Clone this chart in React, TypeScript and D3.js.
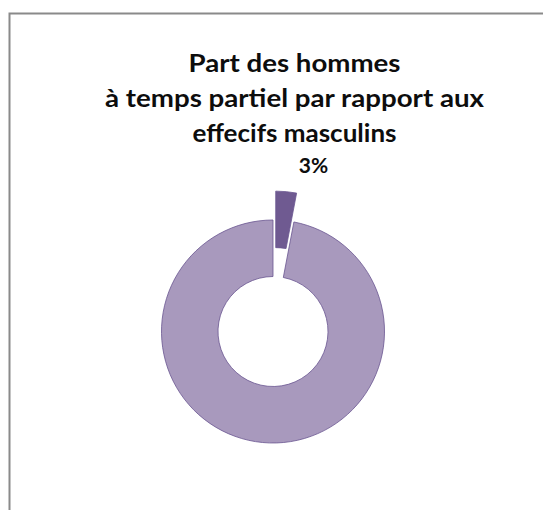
import React from "react";
import * as d3 from "d3";

const categories = ["Hommes à temps partiel", "Autres hommes"];
const values = [3, 97];
const titleLines = ["Part des hommes", "à temps partiel par rapport aux", "effecifs masculins"];
const sliceColors = ["#6F5A91", "#A899BD"];

const W = 543;
const H = 510;
const cx = 273;
const cy = 331.5;
const outerR = 111.5;
const innerR = 55;
const explode = 29;

export default function App() {
  const pie = d3
    .pie<number>()
    .sort(null)
    .startAngle(0)
    .endAngle(2 * Math.PI)
    .value((d) => d);
  const arcs = pie(values);
  const arc = d3.arc<d3.PieArcDatum<number>>().innerRadius(innerR).outerRadius(outerR);
  const total = d3.sum(values);
  const fmt = d3.format(".0%");

  const titleWidths = [212, 379, 204];
  const titleBase = [71.5, 106.5, 141.5];
  const titleX = 294.5;

  return (
    <svg
      width={W}
      height={H}
      style={{ position: "absolute", left: 0, top: 0, background: "#fff" }}
    >
      <rect x={9.5} y={13.5} width={W + 40} height={H + 40} fill="#fff" stroke="#8a8a8a" strokeWidth={2} />
      {titleLines.map((t, i) => (
        <text
          key={i}
          x={titleX}
          y={titleBase[i]}
          textAnchor="middle"
          fontFamily="Lato, 'Open Sans', sans-serif"
          fontWeight={700}
          fontSize={24}
          fill="#0d0d0d"
          textLength={titleWidths[i]}
          lengthAdjust="spacingAndGlyphs"
        >
          {t}
        </text>
      ))}
      <g transform={`translate(${cx},${cy})`}>
        {arcs.map((a, i) => {
          const mid = (a.startAngle + a.endAngle) / 2;
          const off = i === 0 ? explode : 0;
          const dx = off * Math.sin(mid);
          const dy = -off * Math.cos(mid);
          return (
            <path
              key={categories[i]}
              d={arc(a) || ""}
              transform={`translate(${dx},${dy})`}
              fill={sliceColors[i]}
              stroke="#6A5690"
              strokeWidth={0.8}
            />
          );
        })}
        {arcs
          .filter((_, i) => i === 0)
          .map((a) => (
            <text
              key="lbl"
              x={40.5}
              y={173 - cy}
              textAnchor="middle"
              fontFamily="Lato, 'Open Sans', sans-serif"
              fontWeight={700}
              fontSize={21}
              fill="#0d0d0d"
            >
              {fmt(a.value / total)}
            </text>
          ))}
      </g>
    </svg>
  );
}
